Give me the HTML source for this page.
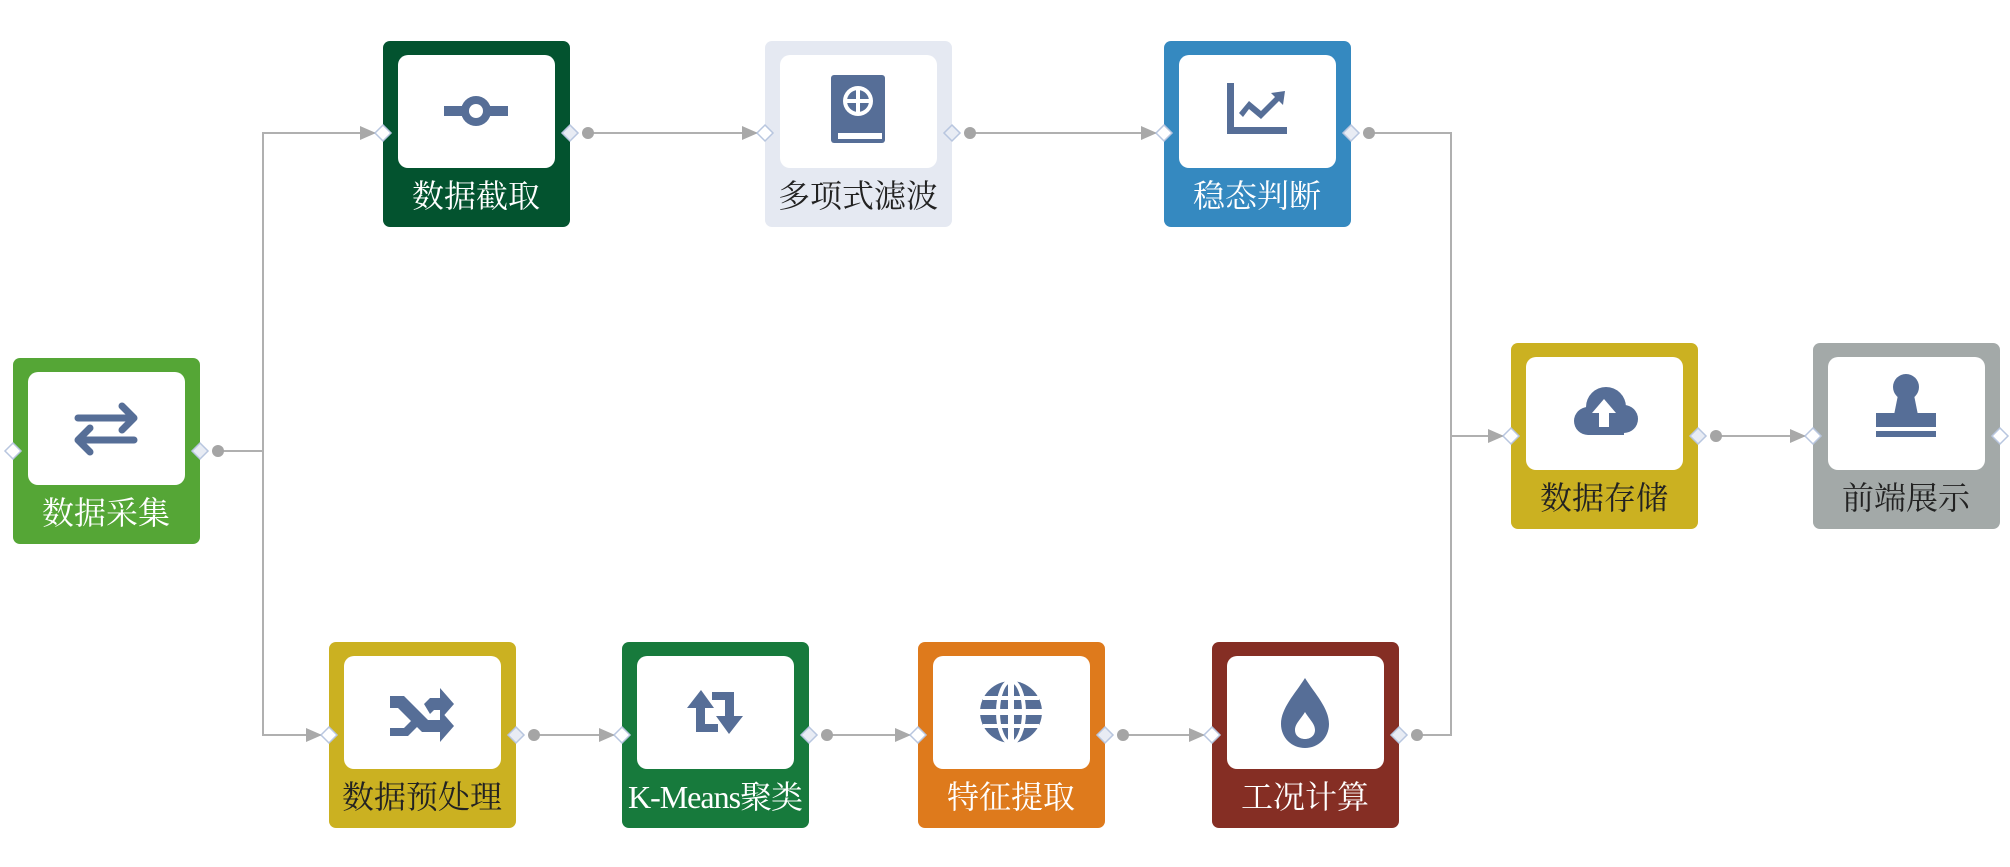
<!DOCTYPE html>
<html><head><meta charset="utf-8"><style>
html,body{margin:0;padding:0;background:#fff;width:2010px;height:867px;overflow:hidden}
text{font-family:"Liberation Serif","Noto Serif CJK SC",serif;font-size:32px;text-anchor:middle}
</style></head><body>
<svg width="2010" height="867" viewBox="0 0 2010 867" xmlns="http://www.w3.org/2000/svg">
<defs>
<marker id="ar" markerWidth="16" markerHeight="14" refX="15" refY="7" orient="auto" markerUnits="userSpaceOnUse"><path d="M0,0 L16,7 L0,14 z" fill="#a9a9a9"/></marker>
<g id="din"><path d="M0,-8 L8,0 L0,8 L-8,0 z" fill="#fff" stroke="#b8c6df" stroke-width="1.5"/></g>
<g id="dout"><path d="M0,-8 L8,0 L0,8 L-8,0 z" fill="#e8ecf4" stroke="#b8c6df" stroke-width="1.5"/><circle cx="18" cy="0" r="6" fill="#a5a5a5"/></g>
</defs>
<g fill="none" stroke="#b0b0b0" stroke-width="2">
<path d="M219,451 H263 V735 H321" marker-end="url(#ar)"/>
<path d="M263,451 V133 H375" marker-end="url(#ar)"/>
<path d="M589,133 H757" marker-end="url(#ar)"/>
<path d="M971,133 H1156" marker-end="url(#ar)"/>
<path d="M1369,133 H1451 V436 H1503" marker-end="url(#ar)"/>
<path d="M1418,735 H1451 V436"/>
<path d="M1714,436 H1805" marker-end="url(#ar)"/>
<path d="M534,735 H614" marker-end="url(#ar)"/>
<path d="M827,735 H910" marker-end="url(#ar)"/>
<path d="M1123,735 H1204" marker-end="url(#ar)"/>
</g>
<g>
<rect x="13" y="358" width="187" height="186" rx="7" fill="#55a636"/>
<rect x="383" y="41" width="187" height="186" rx="7" fill="#03532f"/>
<rect x="765" y="41" width="187" height="186" rx="7" fill="#e5e9f2"/>
<rect x="1164" y="41" width="187" height="186" rx="7" fill="#3589c0"/>
<rect x="1511" y="343" width="187" height="186" rx="7" fill="#cbb121"/>
<rect x="1813" y="343" width="187" height="186" rx="7" fill="#a3a9a8"/>
<rect x="329" y="642" width="187" height="186" rx="7" fill="#cbb121"/>
<rect x="622" y="642" width="187" height="186" rx="7" fill="#177a3c"/>
<rect x="918" y="642" width="187" height="186" rx="7" fill="#de7a1c"/>
<rect x="1212" y="642" width="187" height="186" rx="7" fill="#852e24"/>
</g>
<g fill="#fff">
<rect x="28" y="372" width="157" height="113" rx="10"/>
<rect x="398" y="55" width="157" height="113" rx="10"/>
<rect x="780" y="55" width="157" height="113" rx="10"/>
<rect x="1179" y="55" width="157" height="113" rx="10"/>
<rect x="1526" y="357" width="157" height="113" rx="10"/>
<rect x="1828" y="357" width="157" height="113" rx="10"/>
<rect x="344" y="656" width="157" height="113" rx="10"/>
<rect x="637" y="656" width="157" height="113" rx="10"/>
<rect x="933" y="656" width="157" height="113" rx="10"/>
<rect x="1227" y="656" width="157" height="113" rx="10"/>
</g>
<text x="106" y="524" fill="#fff">数据采集</text>
<text x="476" y="207" fill="#fff">数据截取</text>
<text x="858" y="207" fill="#222">多项式滤波</text>
<text x="1257" y="207" fill="#fff">稳态判断</text>
<text x="1604" y="509" fill="#222">数据存储</text>
<text x="1906" y="509" fill="#222">前端展示</text>
<text x="422" y="808" fill="#222">数据预处理</text>
<text x="715" y="808" fill="#fff" style="letter-spacing:-1px">K-Means聚类</text>
<text x="1011" y="808" fill="#fff">特征提取</text>
<text x="1305" y="808" fill="#fff">工况计算</text>
<g fill="#566e97" stroke="none">
<g transform="translate(106,428)" fill="none" stroke="#566e97" stroke-width="7" stroke-linecap="round" stroke-linejoin="round">
<path d="M-28,-10 H28 M16,-22 L28,-10 L16,2"/>
<path d="M28,12 H-28 M-16,0 L-28,12 L-16,24"/>
</g>
<g transform="translate(476,111)">
<rect x="-32" y="-5" width="64" height="10"/>
<circle cx="0" cy="0" r="15"/><circle cx="0" cy="0" r="7" fill="#fff"/>
</g>
<g transform="translate(858,111)">
<rect x="-27" y="-36" width="54" height="68" rx="3"/>
<rect x="-20" y="22" width="44" height="6" fill="#fff"/>
<circle cx="0" cy="-10" r="15" fill="#fff"/><circle cx="0" cy="-10" r="11"/>
<path d="M-2,-21 h4 v22 h-4z M-11,-12 h22 v4 h-22z" fill="#fff"/>
</g>
<g transform="translate(1257,111)">
<path d="M-30,-28 h7 v44 h53 v7 h-60 z"/>
<path d="M-18,2 L-8,-10 L4,0 L18,-14 L14,-18 L28,-20 L26,-6 L22,-10 L4,8 L-8,-2 L-14,6 z"/>
</g>
<g transform="translate(1604,413)">
<circle cx="-16" cy="8" r="14"/><circle cx="2" cy="-6" r="20"/><circle cx="20" cy="6" r="14"/>
<rect x="-16" y="6" width="36" height="16"/>
<path d="M0,-14 L12,0 H5 V14 H-5 V0 H-12 z" fill="#fff"/>
</g>
<g transform="translate(1906,413)">
<circle cx="0" cy="-26" r="13"/>
<path d="M-8,-18 h16 l4,20 h-24 z"/>
<rect x="-30" y="0" width="60" height="14"/>
<rect x="-30" y="18" width="60" height="6"/>
</g>
<g transform="translate(422,712)">
<path d="M-32,-16 h14 l24,24 h12 v-10 l14,16 l-14,16 v-10 h-18 l-24,-24 h-8 z"/>
<path d="M-32,16 h14 l8,-8 l6,6 l-10,10 h-18 z M2,-8 l6,-6 h10 v-10 l14,16 l-14,16 v-10 h-6 l-4,4 z"/>
</g>
<g transform="translate(715,712)">
<path d="M-14,-22 L-28,-4 h9 v24 h22 v-8 h-13 v-16 h9 z"/>
<path d="M14,22 L28,4 h-9 v-24 h-22 v8 h13 v16 h-9 z"/>
</g>
<g transform="translate(1011,712)">
<circle cx="0" cy="0" r="31"/>
<path d="M-3,-31 h6 v62 h-6z M-31,-3 h62 v6 h-62z M-28,-16 h56 v4 h-56z M-28,12 h56 v4 h-56z" fill="#fff"/>
<ellipse cx="0" cy="0" rx="13" ry="31" fill="none" stroke="#fff" stroke-width="4"/>
</g>
<g transform="translate(1305,712)">
<path d="M0,-34 C10,-18 24,-4 24,12 C24,26 13,36 0,36 C-13,36 -24,26 -24,12 C-24,-4 -10,-18 0,-34 z"/>
<path d="M0,0 C5,8 10,12 10,18 C10,24 5,27 0,27 C-5,27 -10,24 -10,18 C-10,12 -5,8 0,0z" fill="#fff"/>
</g>
</g>
<use href="#din" x="13" y="451"/><use href="#dout" x="200" y="451"/>
<use href="#din" x="383" y="133"/><use href="#dout" x="570" y="133"/>
<use href="#din" x="765" y="133"/><use href="#dout" x="952" y="133"/>
<use href="#din" x="1164" y="133"/><use href="#dout" x="1351" y="133"/>
<use href="#din" x="1511" y="436"/><use href="#dout" x="1698" y="436"/>
<use href="#din" x="1813" y="436"/><use href="#din" x="2000" y="436"/>
<use href="#din" x="329" y="735"/><use href="#dout" x="516" y="735"/>
<use href="#din" x="622" y="735"/><use href="#dout" x="809" y="735"/>
<use href="#din" x="918" y="735"/><use href="#dout" x="1105" y="735"/>
<use href="#din" x="1212" y="735"/><use href="#dout" x="1399" y="735"/>
</svg>
</body></html>
